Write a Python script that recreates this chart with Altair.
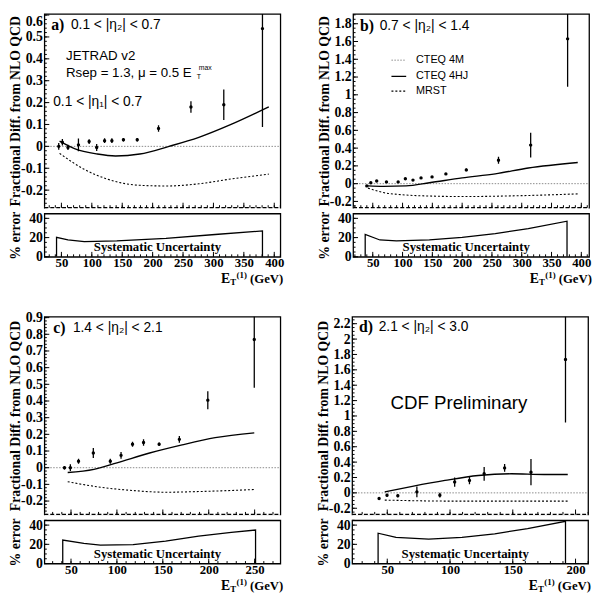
import altair as alt
import pandas as pd

SERIF = "Liberation Serif"
SANS = "Liberation Sans"

# ---------------- data ----------------
# panel a) 0.1 < |eta2| < 0.7
a_x = [45.6, 51.6, 60.8, 78, 95.6, 108, 121, 133, 152, 174.7, 209.7, 263, 317, 380.6]
a_y = [0.0, 0.019, -0.005, 0.007, 0.022, -0.005, 0.026, 0.026, 0.03, 0.03, 0.082, 0.18, 0.19, 0.538]
a_err = [0.015, 0.015, 0.012, 0.029, 0.011, 0.016, 0.011, 0.011, 0.008, 0.008, 0.015, 0.026, 0.07, 0.45]
a_hj_x = [47, 71.5, 109, 139, 179, 227, 276, 329, 391]
a_hj_y = [0.024, -0.01, -0.035, -0.044, -0.035, 0.0, 0.041, 0.1, 0.18]
a_mr_x = [47, 87.6, 125, 179, 224, 276, 329, 391]
a_mr_y = [-0.032, -0.105, -0.149, -0.178, -0.181, -0.171, -0.149, -0.127]
a_m_x = [22, 410]
a_m_y = [0, 0]
a_sys_x = [42, 42, 60.8, 87.6, 141, 222, 302.7, 380.6, 380.6]
a_sys_y = [0, 20.2, 17.5, 15.8, 16.5, 19.2, 23.2, 26.9, 0]

# panel b) 0.7 < |eta2| < 1.4
b_x = [40, 46.7, 56.6, 73, 92.6, 104.7, 117.5, 131, 149.5, 172.7, 207, 261, 315, 377]
b_y = [-0.025, 0.01, 0.03, 0.02, 0.02, 0.055, 0.04, 0.065, 0.076, 0.11, 0.155, 0.264, 0.434, 1.63]
b_err = [0.01, 0.01, 0.01, 0.01, 0.01, 0.01, 0.01, 0.01, 0.01, 0.01, 0.015, 0.04, 0.14, 0.54]
b_hj_x = [42, 67.7, 106, 145, 200, 255.6, 311, 394]
b_hj_y = [-0.025, -0.03, -0.025, 0.01, 0.065, 0.11, 0.176, 0.238]
b_mr_x = [42, 67.7, 100, 150, 200, 300, 394]
b_mr_y = [-0.05, -0.1, -0.125, -0.14, -0.145, -0.135, -0.115]
b_m_x = [17, 413]
b_m_y = [0, 0]
b_sys_x = [37.3, 37.3, 62, 89.7, 145, 200, 255.6, 311, 376, 376]
b_sys_y = [0, 23.2, 17.5, 16.5, 17.5, 20.2, 24.2, 29.3, 37, 0]

# panel c) 1.4 < |eta2| < 2.1
c_x = [42.9, 49.3, 58.2, 74.3, 92.8, 104.5, 117, 129, 146, 168, 199, 249.6]
c_y = [0.0, 0.0, 0.039, 0.088, 0.039, 0.074, 0.141, 0.151, 0.141, 0.170, 0.405, 0.769]
c_err = [0.01, 0.02, 0.015, 0.03, 0.015, 0.02, 0.015, 0.02, 0.01, 0.02, 0.054, 0.29]
c_hj_x = [46.4, 75, 100, 135.6, 171, 207, 249.6]
c_hj_y = [-0.029, -0.01, 0.029, 0.088, 0.137, 0.18, 0.209]
c_mr_x = [46.4, 82, 117.7, 153, 189, 249.6]
c_mr_y = [-0.084, -0.117, -0.137, -0.147, -0.143, -0.131]
c_m_x = [21, 278]
c_m_y = [0, 0]
c_sys_x = [41, 41, 64, 82, 117.7, 153, 189, 224.6, 251, 251]
c_sys_y = [0, 24.4, 20.9, 19.2, 19.8, 23.4, 28.6, 32.4, 34.9, 0]

# panel d) 2.1 < |eta2| < 3.0
d_x = [43.5, 49.8, 58.4, 73.6, 91.9, 103.7, 115.5, 127.2, 143.5, 164.5, 192]
d_y = [-0.073, -0.03, -0.038, 0.013, -0.03, 0.141, 0.162, 0.248, 0.325, 0.269, 1.735]
d_err = [0.01, 0.02, 0.02, 0.07, 0.03, 0.06, 0.05, 0.09, 0.05, 0.17, 0.82]
d_hj_x = [48, 70, 96, 122.5, 148.7, 175, 193.8]
d_hj_y = [0.013, 0.085, 0.162, 0.226, 0.248, 0.239, 0.239]
d_mr_x = [48, 100, 193.8]
d_mr_y = [-0.094, -0.107, -0.107]
d_m_x = [22, 210]
d_m_y = [0, 0]
d_sys_x = [42.7, 42.7, 57, 83, 109.5, 135.6, 161.8, 192, 192]
d_sys_y = [0, 31.6, 27.3, 25.4, 27.3, 31, 36.4, 44, 0]

# axis ticks / labels
a_ymaj = [-0.2, -0.1, 0, 0.1, 0.2, 0.3, 0.4, 0.5, 0.6]
b_ymaj = [-0.2, 0, 0.2, 0.4, 0.6, 0.8, 1, 1.2, 1.4, 1.6, 1.8]
c_ymaj = [-0.2, -0.1, 0, 0.1, 0.2, 0.3, 0.4, 0.5, 0.6, 0.7, 0.8, 0.9]
d_ymaj = [-0.2, 0, 0.2, 0.4, 0.6, 0.8, 1, 1.2, 1.4, 1.6, 1.8, 2, 2.2]
ab_xmaj = [50, 100, 150, 200, 250, 300, 350, 400]
c_xmaj = [50, 100, 150, 200, 250]
d_xmaj = [50, 100, 150, 200]
bot_ymaj = [0, 20, 40]

legend_labels = ["CTEQ 4M", "CTEQ 4HJ", "MRST"]

W = 240
H_TOP = [197, 201]
H_BOT = 44
BOT_DOM = [0, 45]
TITLE_X = -22


def minors(major, nsub, lo, hi):
    step = (major[1] - major[0]) / nsub
    out = []
    v = major[0] - step * nsub
    while v <= hi + 1e-9:
        if v >= lo - 1e-9:
            out.append(round(v, 6))
        v += step
    return out


def tick_layers(xs, ys, xax, yax, xmaj, xsub, ymaj, ysub, xdom, ydom, h):
    layers = []
    for vals, ln in ((ymaj, 5), (minors(ymaj, ysub, ydom[0], ydom[1]), 2.5)):
        vals = [v for v in vals if ydom[0] <= v <= ydom[1]]
        layers.append(
            alt.Chart(pd.DataFrame({"y": vals})).mark_rule(color="black", strokeWidth=1).encode(
                y=alt.Y("y:Q", scale=ys, axis=yax), x=alt.value(0), x2=alt.value(ln)))
    for vals, ln in ((xmaj, 5), (minors(xmaj, xsub, xdom[0], xdom[1]), 2.5)):
        vals = [v for v in vals if xdom[0] <= v <= xdom[1]]
        layers.append(
            alt.Chart(pd.DataFrame({"x": vals})).mark_rule(color="black", strokeWidth=1).encode(
                x=alt.X("x:Q", scale=xs, axis=xax), y=alt.value(h), y2=alt.value(h - ln)))
    return layers


def text_layer(txt, x, y, font=SANS, size=14, weight="normal", align="left", baseline="middle"):
    return alt.Chart(pd.DataFrame({"t": [txt]})).mark_text(
        font=font, fontSize=size, fontWeight=weight, align=align, baseline=baseline, color="black"
    ).encode(x=alt.value(x), y=alt.value(y), text="t:N")


def top_panel(px, py, pe, hx, hy, mx, my, zx, zy, xdom, ydom, ymaj, ysub, xmaj, h, texts, flush):
    xs = alt.Scale(domain=xdom, nice=False, zero=False)
    ys = alt.Scale(domain=ydom, nice=False, zero=False)
    xax = alt.Axis(labels=False, title=None, ticks=False, domain=False, grid=False)
    yax = alt.Axis(values=ymaj, labelExpr="toString(round(datum.value*10)/10)",
                   title="Fractional Diff. from NLO QCD", titleX=TITLE_X, labelFlush=flush,
                   labelPadding=2, tickSize=0, ticks=False, domain=False, grid=False)
    X = lambda f: alt.X(f, scale=xs, axis=xax)
    Y = lambda f: alt.Y(f, scale=ys, axis=yax)
    pts = pd.DataFrame({"x": px, "y": py,
                        "lo": [a - b for a, b in zip(py, pe)],
                        "hi": [a + b for a, b in zip(py, pe)]})
    zero = alt.Chart(pd.DataFrame({"x": zx, "y": zy})).mark_line(
        color="#8a8a8a", strokeDash=[1.5, 1.5], strokeWidth=1).encode(x=X("x:Q"), y=Y("y:Q"))
    mrst = alt.Chart(pd.DataFrame({"x": mx, "y": my})).mark_line(
        color="black", strokeDash=[2, 2], strokeWidth=1.1, interpolate="monotone").encode(
        x=X("x:Q"), y=Y("y:Q"))
    hj = alt.Chart(pd.DataFrame({"x": hx, "y": hy})).mark_line(
        color="black", strokeWidth=1.4, interpolate="monotone").encode(x=X("x:Q"), y=Y("y:Q"))
    bars = alt.Chart(pts).mark_rule(color="black", strokeWidth=1.3, clip=True).encode(
        x=X("x:Q"), y=Y("lo:Q"), y2="hi:Q")
    dots = alt.Chart(pts).mark_circle(color="black", size=12, opacity=1).encode(
        x=X("x:Q"), y=Y("y:Q"))
    edge_w = alt.Chart(pd.DataFrame({"t": [0]})).mark_rule(color="white", strokeWidth=2.5).encode(
        x=alt.value(0.5), x2=alt.value(W - 0.5), y=alt.value(h))
    edge_d = alt.Chart(pd.DataFrame({"t": [0]})).mark_rule(color="black", strokeWidth=1.2, strokeDash=[4, 2]).encode(
        x=alt.value(0), x2=alt.value(W), y=alt.value(h))
    layers = [zero, mrst, hj, bars, dots, edge_w, edge_d]
    layers += tick_layers(xs, ys, xax, yax, xmaj, 5, ymaj, ysub, xdom, ydom, h)
    layers += texts
    return alt.layer(*layers).properties(width=W, height=h)


def bottom_panel(sx, sy, xdom, xmaj):
    xs = alt.Scale(domain=xdom, nice=False, zero=False)
    ys = alt.Scale(domain=BOT_DOM, nice=False, zero=False)
    xax = alt.Axis(values=xmaj, format="d", title=None, ticks=False, domain=False, grid=False,
                   labelPadding=0, labelFontSize=13, tickSize=0)
    yax = alt.Axis(values=bot_ymaj, format="d", title="% error", titleX=TITLE_X, labelPadding=2,
                   tickSize=0, ticks=False, domain=False, grid=False)
    sysdf = pd.DataFrame({"x": sx, "y": sy, "i": list(range(len(sx)))})
    line = alt.Chart(sysdf).mark_line(color="black", strokeWidth=1.3, clip=True).encode(
        x=alt.X("x:Q", scale=xs, axis=xax), y=alt.Y("y:Q", scale=ys, axis=yax), order="i:Q")
    layers = [line]
    layers += tick_layers(xs, ys, xax, yax, xmaj, 5, bot_ymaj, 4, xdom, BOT_DOM, H_BOT)
    R = W + 3
    layers += [
        text_layer("Systematic Uncertainty", 115, 38.5, font=SERIF, size=13, weight="bold",
                   align="center", baseline="alphabetic"),
        text_layer("(GeV)", R, H_BOT + 26.5, font=SERIF, size=13, weight="bold", align="right", baseline="alphabetic"),
        text_layer("(1)", R - 37, H_BOT + 22, font=SERIF, size=9, weight="bold", align="right", baseline="alphabetic"),
        text_layer("T", R - 54, H_BOT + 28.5, font=SERIF, size=9, weight="bold", align="left", baseline="alphabetic"),
        text_layer("E", R - 54, H_BOT + 26.5, font=SERIF, size=14, weight="bold", align="right", baseline="alphabetic"),
    ]
    return alt.layer(*layers).properties(width=W, height=H_BOT)


def legend_layers():
    out = []
    dashes = [[1.5, 1.5], [1, 0], [2, 2]]
    colors = ["#8a8a8a", "black", "black"]
    widths = [1, 1.4, 1.1]
    ys = [47, 63.5, 78.5]
    for lab, dsh, col, wd, yy in zip(legend_labels, dashes, colors, widths, ys):
        out.append(alt.Chart(pd.DataFrame({"t": [lab]})).mark_rule(
            color=col, strokeDash=dsh, strokeWidth=wd).encode(
            x=alt.value(39), x2=alt.value(54), y=alt.value(yy)))
        out.append(text_layer(lab, 64, yy, size=11))
    return out


texts_a = [
    text_layer("a)", 7, 11.5, font=SERIF, size=16, weight="bold"),
    text_layer("0.1 < |η₂| < 0.7", 27, 11.5, size=14),
    text_layer("JETRAD v2", 22, 43, size=13.5),
    text_layer("Rsep = 1.3,  μ = 0.5 E", 22, 60, size=13.5),
    text_layer("T", 155, 64, size=7),
    text_layer("max", 157, 55, size=7),
    text_layer("0.1 < |η₁| < 0.7", 9, 90, size=14),
]
texts_b = [
    text_layer("b)", 7, 12, font=SERIF, size=16, weight="bold"),
    text_layer("0.7 < |η₂| < 1.4", 27, 12, size=14),
] + legend_layers()
texts_c = [
    text_layer("c)", 9, 11, font=SERIF, size=16, weight="bold"),
    text_layer("1.4 < |η₂| < 2.1", 29, 11, size=14),
]
texts_d = [
    text_layer("d)", 7, 10.5, font=SERIF, size=16, weight="bold"),
    text_layer("2.1 < |η₂| < 3.0", 27, 10.5, size=14),
    text_layer("CDF Preliminary", 39, 88, size=19),
]

top_a = top_panel(a_x, a_y, a_err, a_hj_x, a_hj_y, a_mr_x, a_mr_y, a_m_x, a_m_y,
                  [22, 410], [-0.28, 0.605], a_ymaj, 5, ab_xmaj, H_TOP[0], texts_a, 3)
top_b = top_panel(b_x, b_y, b_err, b_hj_x, b_hj_y, b_mr_x, b_mr_y, b_m_x, b_m_y,
                  [17, 413], [-0.27, 1.91], b_ymaj, 4, ab_xmaj, H_TOP[0], texts_b, False)
top_c = top_panel(c_x, c_y, c_err, c_hj_x, c_hj_y, c_mr_x, c_mr_y, c_m_x, c_m_y,
                  [21, 278], [-0.28, 0.905], c_ymaj, 5, c_xmaj, H_TOP[1], texts_c, False)
top_d = top_panel(d_x, d_y, d_err, d_hj_x, d_hj_y, d_mr_x, d_mr_y, d_m_x, d_m_y,
                  [22, 210], [-0.28, 2.29], d_ymaj, 4, d_xmaj, H_TOP[1], texts_d, False)

bot_a = bottom_panel(a_sys_x, a_sys_y, [22, 410], ab_xmaj)
bot_b = bottom_panel(b_sys_x, b_sys_y, [17, 413], ab_xmaj)
bot_c = bottom_panel(c_sys_x, c_sys_y, [21, 278], c_xmaj)
bot_d = bottom_panel(d_sys_x, d_sys_y, [22, 210], d_xmaj)

pa = alt.vconcat(top_a, bot_a, spacing=0)
pb = alt.vconcat(top_b, bot_b, spacing=0)
pc = alt.vconcat(top_c, bot_c, spacing=0)
pd_ = alt.vconcat(top_d, bot_d, spacing=0)
row1 = alt.hconcat(pa, pb, spacing=32)
row2 = alt.hconcat(pc, pd_, spacing=32)

chart = alt.vconcat(row1, row2, spacing=22).properties(
    padding={"left": 0, "top": 0, "right": 0, "bottom": 0}
).configure_view(
    stroke="black", strokeWidth=1.3
).configure_axis(
    labelFont=SERIF, labelFontWeight="bold", labelFontSize=14, labelColor="black",
    titleFont=SERIF, titleFontWeight="bold", titleFontSize=14, titleColor="black",
    grid=False, ticks=False, domain=False
)

chart.save("out.html", embed_options={"renderer": "svg", "actions": False})
